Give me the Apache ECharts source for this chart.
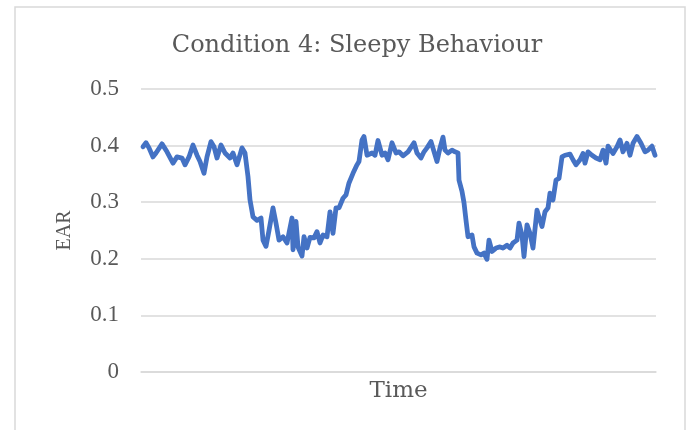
<!DOCTYPE html>
<html>
<head>
<meta charset="utf-8">
<script src="https://cdn.jsdelivr.net/npm/echarts@6/dist/echarts.min.js"></script>
<style>
  html, body { margin: 0; padding: 0; background: #fff; }
  #chart { width: 689px; height: 430px; }
</style>
</head>
<body>
<div id="chart"></div>
<script>
// time position of each sample (frame index)
var frames = [2, 5, 8, 12, 15, 21, 26, 32, 36, 41, 44, 48, 52, 56, 59, 63, 66, 70, 73, 76,
  80, 84, 89, 92, 96, 101, 104, 107, 109, 112, 116, 120, 122, 125, 128, 132, 135, 138, 142, 146,
  151, 152, 155, 157, 161, 163, 166, 169, 173, 176, 179, 182, 186, 189, 192, 195, 198, 202, 205, 208,
  212, 216, 218, 221, 223, 226, 231, 234, 237, 241, 244, 247, 251, 255, 258, 262, 267, 273, 276, 280,
  283, 286, 290, 292, 296, 299, 302, 304, 307, 311, 314, 317, 318, 321, 323, 325, 327, 331, 333, 336,
  340, 343, 346, 348, 351, 355, 359, 362, 366, 369, 372, 376, 378, 381, 383, 386, 389, 392, 396, 398,
  401, 404, 407, 409, 412, 415, 418, 421, 424, 429, 432, 435, 439, 442, 444, 447, 451, 455, 459, 462,
  465, 467, 472, 476, 479, 482, 486, 489, 492, 496, 500, 504, 507, 511, 514];
// eye aspect ratio
var ear = [0.398, 0.405, 0.396, 0.380, 0.387, 0.403, 0.389, 0.369, 0.380, 0.378, 0.366, 0.380, 0.401, 0.383, 0.372, 0.351, 0.380, 0.407, 0.398, 0.378,
  0.401, 0.387, 0.378, 0.387, 0.366, 0.396, 0.387, 0.345, 0.304, 0.274, 0.268, 0.272, 0.233, 0.222, 0.250, 0.290, 0.263, 0.233, 0.239, 0.228,
  0.272, 0.216, 0.266, 0.221, 0.205, 0.239, 0.219, 0.238, 0.237, 0.248, 0.228, 0.242, 0.239, 0.283, 0.245, 0.290, 0.290, 0.307, 0.313, 0.334,
  0.351, 0.366, 0.372, 0.410, 0.416, 0.383, 0.387, 0.383, 0.409, 0.383, 0.387, 0.375, 0.405, 0.387, 0.389, 0.382, 0.389, 0.405, 0.387, 0.378,
  0.389, 0.396, 0.407, 0.410, 0.372, 0.396, 0.415, 0.392, 0.387, 0.392, 0.389, 0.387, 0.339, 0.319, 0.299, 0.268, 0.239, 0.242, 0.221, 0.210,
  0.207, 0.210, 0.199, 0.233, 0.213, 0.219, 0.221, 0.219, 0.224, 0.219, 0.228, 0.233, 0.263, 0.242, 0.204, 0.260, 0.245, 0.219, 0.286, 0.274,
  0.257, 0.283, 0.290, 0.316, 0.304, 0.339, 0.342, 0.380, 0.383, 0.385, 0.375, 0.366, 0.375, 0.386, 0.369, 0.389, 0.383, 0.378, 0.375, 0.392,
  0.369, 0.399, 0.386, 0.398, 0.410, 0.389, 0.404, 0.383, 0.404, 0.416, 0.404, 0.389, 0.392, 0.399, 0.383];
var yTicks = [0, 0.1, 0.2, 0.3, 0.4, 0.5];

var points = frames.map(function (t, i) { return [t, ear[i]] })
var serif = "'Liberation Serif', 'DejaVu Serif', serif"
var wideSerif = "'DejaVu Serif', 'Liberation Serif', serif"

var chart = echarts.init(document.getElementById('chart'))
chart.setOption({
  animation: false,
  backgroundColor: '#fff',
  graphic: [{
    type: 'rect',
    shape: { x: 15, y: 7, width: 670, height: 440 },
    style: { fill: 'none', stroke: '#d9d9d9', lineWidth: 1.5 },
    silent: true
  }],
  title: {
    text: 'Condition 4: Sleepy Behaviour',
    left: 352,
    textAlign: 'center',
    top: 29,
    textStyle: { fontFamily: wideSerif, fontSize: 24, fontWeight: 'normal', color: '#595959' }
  },
  grid: { left: 141, right: 33, top: 89, bottom: 58 },
  xAxis: {
    type: 'value',
    min: 0,
    max: 515,
    name: 'Time',
    nameLocation: 'middle',
    nameGap: 8,
    nameTextStyle: { fontFamily: wideSerif, fontSize: 23, color: '#595959', verticalAlign: 'top' },
    axisLine: { show: true, lineStyle: { color: '#d9d9d9', width: 1.5 } },
    axisTick: { show: false },
    axisLabel: { show: false },
    splitLine: { show: false }
  },
  yAxis: {
    type: 'value',
    min: yTicks[0],
    max: yTicks[yTicks.length - 1],
    interval: 0.1,
    name: 'EAR',
    nameLocation: 'middle',
    nameGap: 66,
    nameRotate: 90,
    nameTextStyle: { fontFamily: serif, fontSize: 20, color: '#595959' },
    axisLine: { show: false },
    axisTick: { show: false },
    axisLabel: { fontFamily: serif, fontSize: 23, color: '#595959', margin: 22 },
    splitLine: { lineStyle: { color: '#d9d9d9', width: 1.5 } }
  },
  series: [{
    type: 'line',
    data: points,
    showSymbol: false,
    smooth: false,
    lineStyle: { color: '#4472c4', width: 4.8, join: 'round', cap: 'round' },
    itemStyle: { color: '#4472c4' }
  }]
})
</script>
</body>
</html>
